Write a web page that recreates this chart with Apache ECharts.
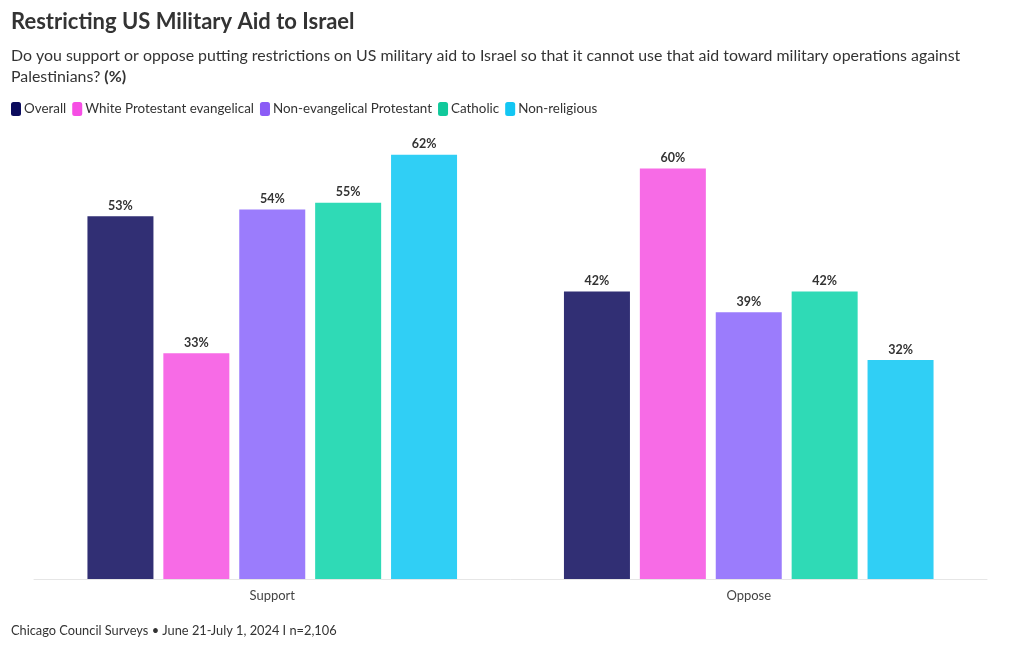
<!DOCTYPE html>
<html><head><meta charset="utf-8">
<script src="https://cdn.jsdelivr.net/npm/echarts@6/dist/echarts.min.js"></script>
<style>html,body{margin:0;padding:0;background:#fff}#c{width:1020px;height:650px}</style>
</head><body><div id="c"></div>
<script>
const categories = ['Support', 'Oppose'];
const seriesNames = ['Overall', 'White Protestant evangelical', 'Non-evangelical Protestant', 'Catholic', 'Non-religious'];
const overall = [53, 42];
const whiteEvangelical = [33, 60];
const nonEvangelical = [54, 39];
const catholic = [55, 42];
const nonReligious = [62, 32];
const legendColors = ['#0b0b5c', '#f64ee4', '#8b5cf6', '#10c99b', '#12c6f3'];
const barColors = ['#312f74', '#f76be6', '#9b7cfc', '#2fdab6', '#30cff5'];
const values = [overall, whiteEvangelical, nonEvangelical, catholic, nonReligious];
const FONT = 'Lato, "Source Sans Pro", sans-serif';

const chart = echarts.init(document.getElementById('c'));
chart.setOption({
  animation: false,
  textStyle: {fontFamily: FONT},
  graphic: [
    {type: 'text', left: 11, top: 11, style: {text: 'Restricting US Military Aid to Israel', font: 'bold 22px ' + FONT, fill: '#333'}},
    {type: 'text', left: 11, top: 45, style: {
      text: 'Do you support or oppose putting restrictions on US military aid to Israel so that it cannot use that aid toward military operations against\nPalestinians? {b|(%)}',
      font: '15.9px ' + FONT, fill: '#333', lineHeight: 21,
      rich: {b: {font: 'bold 15.9px ' + FONT, fill: '#333'}}
    }},
    {type: 'text', left: 11, top: 624, style: {text: 'Chicago Council Surveys \u2022 June 21-July 1, 2024 I n=2,106', font: '12.8px ' + FONT, fill: '#333'}}
  ],
  legend: {
    left: 6, top: 97, icon: 'roundRect', itemWidth: 10, itemHeight: 14, itemGap: 6,
    textStyle: {fontSize: 13.4, color: '#333', padding: [0, 0, 0, -2]},
    data: seriesNames.map((n, i) => ({name: n, itemStyle: {color: legendColors[i]}}))
  },
  grid: {left: 34, right: 33, top: 100, bottom: 71, containLabel: false},
  xAxis: {
    type: 'category', data: categories,
    axisLine: {lineStyle: {color: '#e6e6e6'}},
    axisTick: {show: false},
    axisLabel: {color: '#444', fontSize: 13, margin: 10}
  },
  yAxis: {type: 'value', min: 0, max: 70, show: false, splitLine: {show: false}},
  series: seriesNames.map((n, i) => ({
    name: n, type: 'bar', data: values[i],
    barWidth: 66, barGap: '15%',
    itemStyle: {color: barColors[i]},
    label: {show: true, position: 'top', formatter: '{c}%', fontSize: 12.5, fontWeight: 'bold', color: '#333', distance: 4}
  }))
});
</script></body></html>
